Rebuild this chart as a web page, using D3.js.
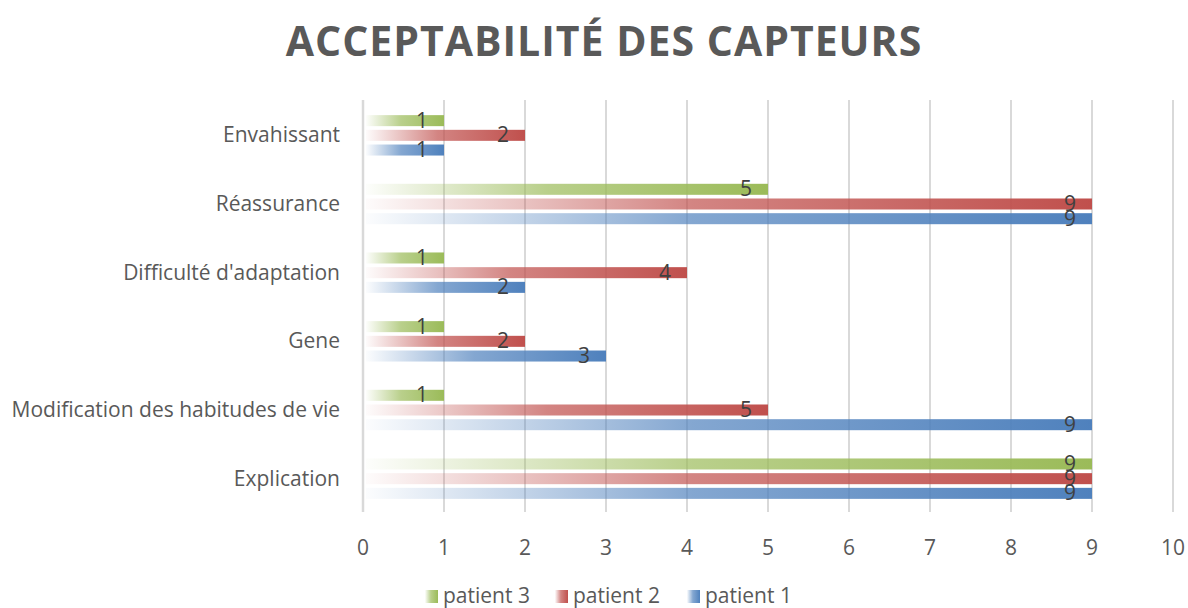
<!DOCTYPE html>
<html>
<head>
<meta charset="utf-8">
<script src="https://cdn.jsdelivr.net/npm/d3@7"></script>
<style>
  body { margin: 0; background: #fff; }
  svg { font-family: 'Open Sans', sans-serif; }
</style>
</head>
<body>
<svg id="chart" width="1188" height="608"></svg>
<script>
// categories top to bottom
const categories = ['Envahissant', 'Réassurance', "Difficulté d'adaptation", 'Gene', 'Modification des habitudes de vie', 'Explication'];
const seriesNames = ['patient 3', 'patient 2', 'patient 1'];
const patient3 = [1, 5, 1, 1, 1, 9];
const patient2 = [2, 9, 4, 2, 5, 9];
const patient1 = [1, 9, 2, 3, 9, 9];
const xTicks = [0, 1, 2, 3, 4, 5, 6, 7, 8, 9, 10];

const colors = { 'patient 3': '#9bbb59', 'patient 2': '#c0504d', 'patient 1': '#4f81bd' };
const seriesValues = { 'patient 3': patient3, 'patient 2': patient2, 'patient 1': patient1 };

const svg = d3.select('#chart');
const margin = { top: 100, left: 363, right: 15, bottom: 96 };
const height = 608 - margin.top - margin.bottom;

const x = d3.scaleLinear().domain([0, 10]).range([0, 810]);
const y = d3.scaleBand().domain(categories).range([0, height]);
const inner = d3.scaleBand().domain(seriesNames)
  .range([y.bandwidth() / 2 - 19.2, y.bandwidth() / 2 + 21.2])
  .paddingInner(0.25);

// gradients like the office fill: pale at the start, full colour at the end
const defs = svg.append('defs');
seriesNames.forEach((s, i) => {
  const g = defs.append('linearGradient').attr('id', 'grad' + i)
    .attr('x1', 0).attr('x2', 1).attr('y1', 0).attr('y2', 0);
  g.append('stop').attr('offset', 0).attr('stop-color', colors[s]).attr('stop-opacity', 0.02);
  g.append('stop').attr('offset', 0.45).attr('stop-color', colors[s]).attr('stop-opacity', 0.7);
  g.append('stop').attr('offset', 1).attr('stop-color', colors[s]).attr('stop-opacity', 1);
});

// title
svg.append('text')
  .attr('x', 604).attr('y', 56)
  .attr('text-anchor', 'middle')
  .attr('font-size', 41).attr('font-weight', 700)
  .attr('letter-spacing', 1)
  .attr('fill', '#595959')
  .text('ACCEPTABILITÉ DES CAPTEURS');

const canvas = svg.append('g').attr('transform', `translate(${margin.left}, ${margin.top})`);

// gridlines
canvas.append('g').selectAll('line').data(xTicks).enter().append('line')
  .attr('x1', d => x(d)).attr('x2', d => x(d))
  .attr('y1', 0).attr('y2', height)
  .attr('stroke', '#d9d9d9').attr('stroke-width', d => (d === 0 ? 2.5 : 2));

// x tick labels
canvas.append('g').selectAll('text').data(xTicks).enter().append('text')
  .attr('x', d => x(d)).attr('y', height + 43)
  .attr('text-anchor', 'middle')
  .attr('font-size', 21).attr('fill', '#595959')
  .text(d => d);

// category labels
canvas.append('g').selectAll('text').data(categories).enter().append('text')
  .attr('x', -23).attr('y', d => y(d) + y.bandwidth() / 2 + 8)
  .attr('text-anchor', 'end')
  .attr('font-size', 21).attr('fill', '#595959')
  .text(d => d);

// bars
const group = canvas.selectAll('g.cat').data(categories).enter().append('g')
  .attr('class', 'cat')
  .attr('transform', d => `translate(0, ${y(d)})`);

seriesNames.forEach((s, si) => {
  group.append('rect')
    .attr('x', x(0) + 3)
    .attr('y', inner(s))
    .attr('width', (d, i) => x(seriesValues[s][i]) - 3)
    .attr('height', inner.bandwidth())
    .attr('fill', `url(#grad${si})`);
  group.append('text')
    .attr('x', (d, i) => x(seriesValues[s][i]) - 22)
    .attr('y', inner(s) + inner.bandwidth() / 2 + 7)
    .attr('text-anchor', 'middle')
    .attr('font-size', 21).attr('fill', '#404040')
    .text((d, i) => seriesValues[s][i]);
});

// legend
const legendX = [425, 555, 687];
const legend = svg.append('g').selectAll('g').data(seriesNames).enter().append('g')
  .attr('transform', (d, i) => `translate(${legendX[i]}, 590)`);
legend.append('rect')
  .attr('width', 13).attr('height', 13)
  .attr('fill', (d, i) => `url(#grad${i})`);
legend.append('text')
  .attr('x', 18).attr('y', 13)
  .attr('font-size', 21).attr('fill', '#595959')
  .text(d => d);
</script>
</body>
</html>
